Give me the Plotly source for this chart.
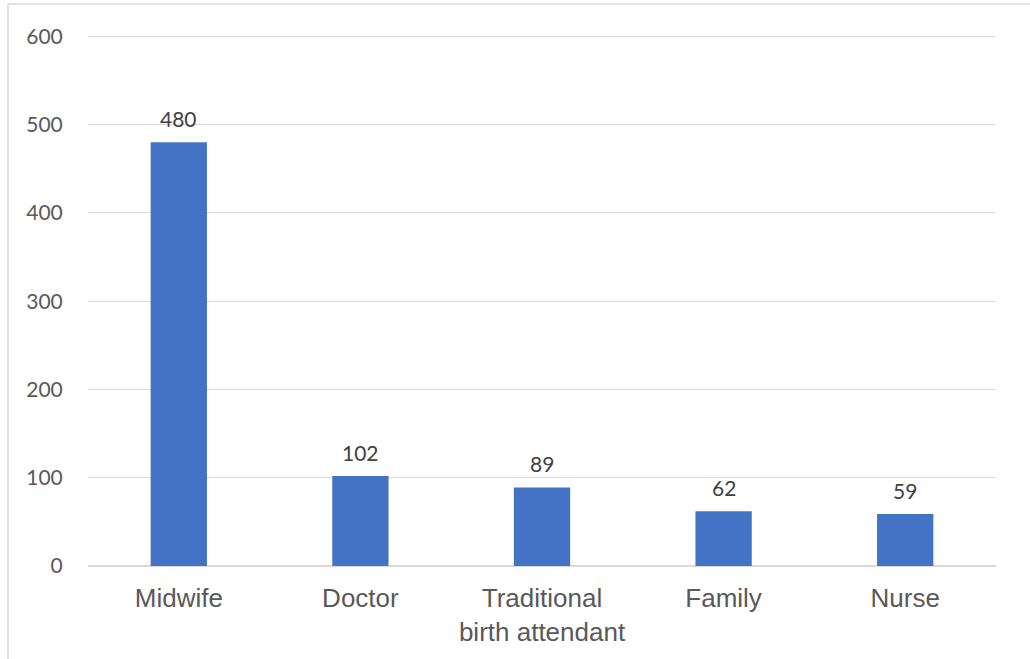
import plotly.graph_objects as go

# Who attended the birth: counts per attendant type
categories = ["Midwife", "Doctor", "Traditional<br>birth attendant", "Family", "Nurse"]
counts = [480, 102, 89, 62, 59]
y_ticks = [0, 100, 200, 300, 400, 500, 600]

BAR_COLOR = "#4472C4"
GRID_COLOR = "#D9D9D9"
AXIS_TEXT = "#595959"
LABEL_TEXT = "#404040"

fig = go.Figure()
fig.add_trace(go.Bar(
    x=categories,
    y=counts,
    marker=dict(color=BAR_COLOR, line=dict(width=0)),
    width=0.31,
    hoverinfo="x+y",
))

# Value labels above each bar
for cat, val in zip(categories, counts):
    fig.add_annotation(
        x=cat, y=val, text=str(val),
        showarrow=False, yanchor="bottom", yshift=9,
        font=dict(family="Lato", size=21, color=LABEL_TEXT),
    )

# Chart frame (left and top edges)
fig.add_shape(type="line", xref="paper", yref="paper",
              x0=-0.0881, x1=-0.0881, y0=1.0585, y1=-0.3,
              line=dict(color=GRID_COLOR, width=1.5))
fig.add_shape(type="line", xref="paper", yref="paper",
              x0=-0.0881, x1=1.1, y0=1.0585, y1=1.0585,
              line=dict(color=GRID_COLOR, width=1.5))

fig.update_layout(
    width=1030, height=659,
    margin=dict(l=88, r=34, t=35, b=93),
    paper_bgcolor="white", plot_bgcolor="white",
    showlegend=False,
    bargap=0.69,
    xaxis=dict(
        showgrid=False, showline=False, zeroline=False,
        ticks="outside", ticklen=9, tickcolor="rgba(0,0,0,0)",
        tickfont=dict(family="Liberation Sans", size=26, color=AXIS_TEXT),
    ),
    yaxis=dict(
        range=[0, 601.5], tickvals=y_ticks,
        showgrid=True, gridcolor=GRID_COLOR, gridwidth=1.3,
        zeroline=True, zerolinecolor=GRID_COLOR, zerolinewidth=1.5,
        showline=False,
        ticks="outside", ticklen=20, tickcolor="rgba(0,0,0,0)",
        tickfont=dict(family="Lato", size=21, color=AXIS_TEXT),
    ),
)

fig.write_html("out.html")
